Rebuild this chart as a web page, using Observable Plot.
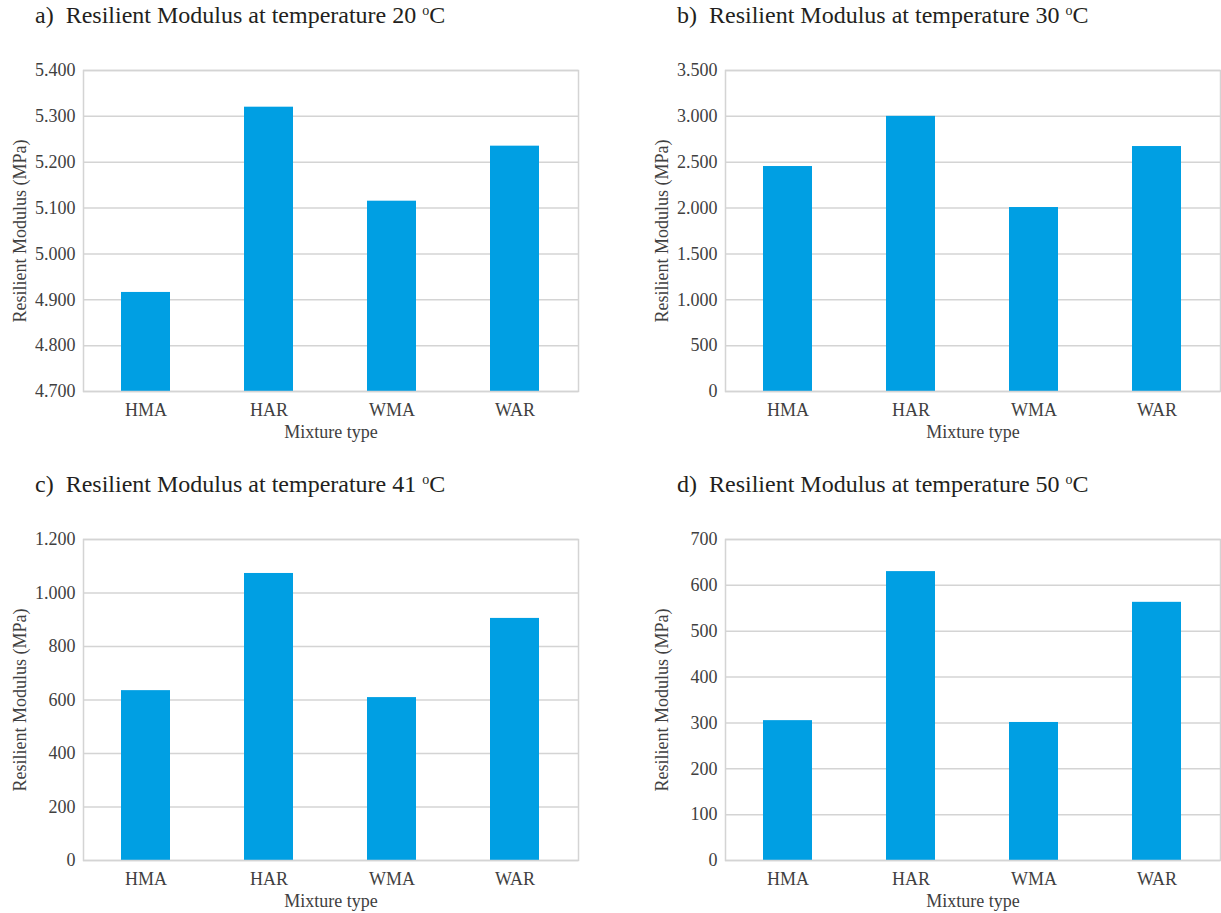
<!DOCTYPE html>
<html>
<head>
<meta charset="utf-8">
<script src="https://cdn.jsdelivr.net/npm/d3@7"></script>
<script src="https://cdn.jsdelivr.net/npm/@observablehq/plot@0.6"></script>
<style>
  body { margin: 0; background: #fff; font-family: "Liberation Serif", "Times New Roman", "DejaVu Serif", serif; }
  #root { position: relative; width: 1221px; height: 913px; }
  .panel { position: absolute; width: 580px; height: 450px; }
  .title { position: absolute; font-size: 24px; color: #231f20; white-space: pre; }
  .title sup { font-size: 14px; vertical-align: 8px; }
  .panel svg { position: absolute; max-width: none; }
  .panel svg text, .panel svg g { font-family: "Liberation Serif", "Times New Roman", "DejaVu Serif", serif !important; }
</style>
</head>
<body>
<div id="root"></div>
<script>
// Mixture types on the x axis
const mixtures = ["HMA", "HAR", "WMA", "WAR"];

// Resilient modulus (MPa) at each test temperature
const mr20 = [4916, 5320, 5115, 5235];
const mr30 = [2453, 3000, 2006, 2671];
const mr41 = [635, 1073, 609, 905];
const mr50 = [305, 630, 301, 563];

// Y-axis ranges and tick values for each panel
const ticks20 = [4700, 4800, 4900, 5000, 5100, 5200, 5300, 5400];
const ticks30 = [0, 500, 1000, 1500, 2000, 2500, 3000, 3500];
const ticks41 = [0, 200, 400, 600, 800, 1000, 1200];
const ticks50 = [0, 100, 200, 300, 400, 500, 600, 700];

const panels = [
  {tag: "a)", temp: "20", values: mr20, ticks: ticks20, left: 0, top: 0},
  {tag: "b)", temp: "30", values: mr30, ticks: ticks30, left: 642, top: 0},
  {tag: "c)", temp: "41", values: mr41, ticks: ticks41, left: 0, top: 469},
  {tag: "d)", temp: "50", values: mr50, ticks: ticks50, left: 642, top: 469}
];

const fmt = d3.formatLocale({decimal: ",", thousands: ".", grouping: [3]}).format(",.0f");
const grid = "#d4d4d4";
const ink = "#404040";
const serif = '"Liberation Serif", "Times New Roman", "DejaVu Serif", serif';
const root = document.getElementById("root");

for (const p of panels) {
  const data = mixtures.map((m, i) => ({type: m, value: p.values[i]}));
  const lo = p.ticks[0], hi = p.ticks[p.ticks.length - 1];

  const panel = document.createElement("div");
  panel.className = "panel";
  panel.style.left = p.left + "px";
  panel.style.top = p.top + "px";

  const title = document.createElement("div");
  title.className = "title";
  title.style.left = "35px";
  title.style.top = "2px";
  title.innerHTML = `${p.tag}  Resilient Modulus at temperature ${p.temp} <sup>o</sup>C`;
  panel.appendChild(title);

  const chart = Plot.plot({
    width: 580,
    height: 406,
    marginLeft: 83,
    marginRight: 2,
    marginTop: 30,
    marginBottom: 55,
    style: {fontFamily: serif, fontSize: "18px", color: ink, background: "transparent", maxWidth: "none"},
    x: {domain: mixtures, paddingInner: 0.6, paddingOuter: 0.3, label: null},
    y: {domain: [lo, hi], label: null},
    marks: [
      Plot.ruleY(p.ticks, {stroke: grid, strokeWidth: 1.5}),
      Plot.barY(data, {x: "type", y1: () => lo, y2: "value", fill: "#009fe3"}),
      Plot.frame({stroke: grid, strokeWidth: 1.5}),
      Plot.axisY({ticks: p.ticks, tickFormat: fmt, tickSize: 0, tickPadding: 8, fontSize: 18,
        label: "Resilient Modulus (MPa)", labelArrow: "none", labelAnchor: "center", labelOffset: 70}),
      Plot.axisX({tickSize: 0, tickPadding: 12, fontSize: 18,
        label: "Mixture type", labelArrow: "none", labelAnchor: "center", labelOffset: 46})
    ]
  });
  chart.style.left = "0px";
  chart.style.top = "40px";
  panel.appendChild(chart);
  root.appendChild(panel);
}
</script>
</body>
</html>
